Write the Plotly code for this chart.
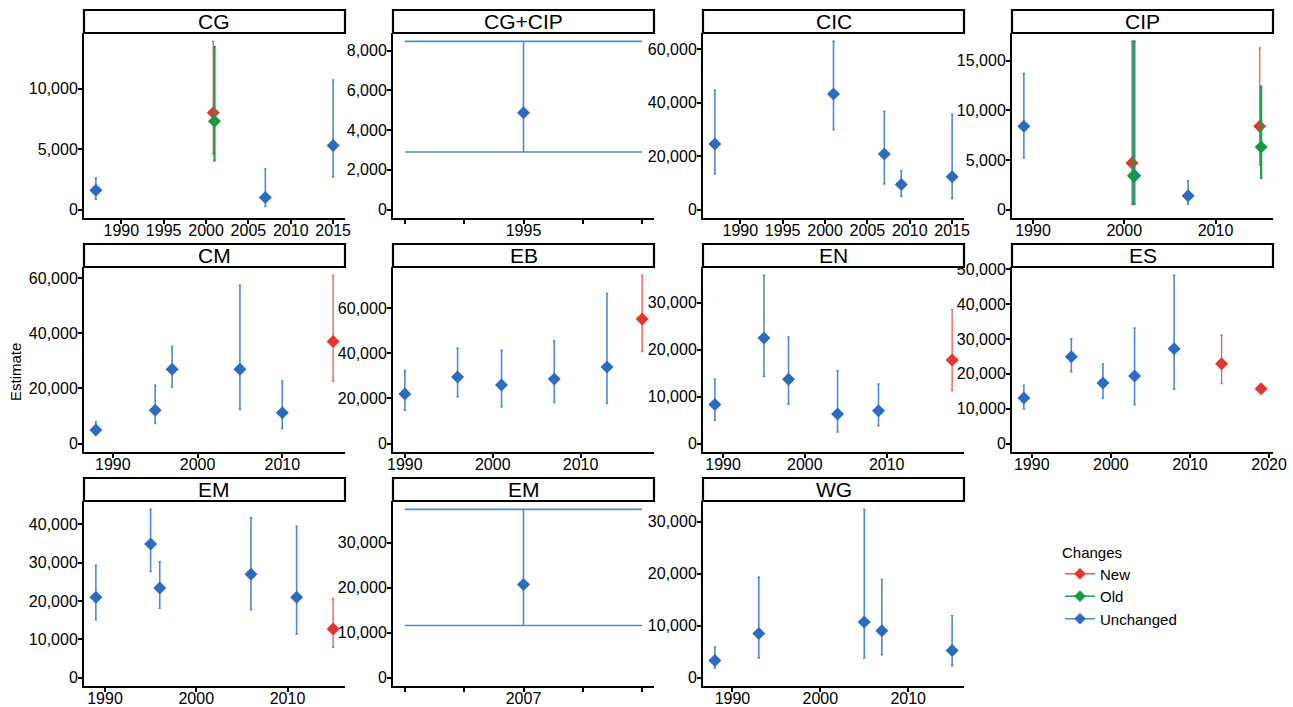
import plotly.graph_objects as go

# ---------------- data ----------------
PANEL_TITLES = ["CG", "CG+CIP", "CIC", "CIP", "CM", "EB", "EN", "ES", "EM", "EM", "WG"]

PANEL = [0, 0, 0, 0, 0,
         1,
         2, 2, 2, 2, 2,
         3, 3, 3, 3, 3, 3, 3,
         4, 4, 4, 4, 4, 4,
         5, 5, 5, 5, 5, 5,
         6, 6, 6, 6, 6, 6,
         7, 7, 7, 7, 7, 7, 7,
         8, 8, 8, 8, 8, 8,
         9,
         10, 10, 10, 10, 10]

YEAR = [1987, 2001, 2001, 2007, 2015,
        1995,
        1987, 2001, 2007, 2009, 2015,
        1989, 2001, 2001, 2001, 2007, 2015, 2015,
        1988, 1995, 1997, 2005, 2010, 2016,
        1990, 1996, 2001, 2007, 2013, 2017,
        1989, 1995, 1998, 2004, 2009, 2018,
        1989, 1995, 1999, 2003, 2008, 2014, 2019,
        1989, 1995, 1996, 2006, 2011, 2015,
        2007,
        1988, 1993, 2005, 2007, 2015]

CHANGE = ["Unchanged", "New", "Old", "Unchanged", "Unchanged",
          "Unchanged",
          "Unchanged", "Unchanged", "Unchanged", "Unchanged", "Unchanged",
          "Unchanged", "Unchanged", "New", "Old", "Unchanged", "New", "Old",
          "Unchanged", "Unchanged", "Unchanged", "Unchanged", "Unchanged", "New",
          "Unchanged", "Unchanged", "Unchanged", "Unchanged", "Unchanged", "New",
          "Unchanged", "Unchanged", "Unchanged", "Unchanged", "Unchanged", "New",
          "Unchanged", "Unchanged", "Unchanged", "Unchanged", "Unchanged", "New", "New",
          "Unchanged", "Unchanged", "Unchanged", "Unchanged", "Unchanged", "New",
          "Unchanged",
          "Unchanged", "Unchanged", "Unchanged", "Unchanged", "Unchanged"]

EST = [1600, 8000, 7300, 1000, 5300,
       4880,
       24500, 43200, 20800, 9400, 12300,
       8400, 3400, 4700, 3400, 1400, 8400, 6300,
       4900, 12100, 27000, 27000, 11200, 37000,
       21900, 29500, 25900, 28600, 33900, 55100,
       8300, 22500, 13700, 6300, 7000, 17800,
       13100, 24900, 17400, 19400, 27200, 22900, 15700,
       21000, 34900, 23400, 27000, 21000, 12700,
       20700,
       3300, 8500, 10700, 9000, 5200]

LOWER = [850, 4600, 4050, 250, 2700,
         2900,
         13300, 29900, 9600, 5000, 4200,
         5200, 550, 550, 550, 550, 4500, 3200,
         3000, 7300, 20500, 12400, 5500, 22700,
         14800, 20700, 16300, 18200, 17800, 40700,
         5000, 14300, 8400, 2500, 3800, 11300,
         10000, 20600, 13100, 11200, 15600, 17200, 15200,
         15100, 27700, 18100, 17700, 11400, 7900,
         11600,
         1850, 3800, 3800, 4400, 2300]

UPPER = [2600, 13900, 13450, 3350, 10700,
         8470,
         44700, 62900, 36800, 14500, 35600,
         13700, 16950, 16950, 16950, 2900, 16300, 12400,
         7900, 21100, 35200, 57400, 22700, 61000,
         32300, 42200, 41300, 45500, 66400, 74400,
         13700, 35800, 22700, 15500, 12700, 28500,
         16700, 30000, 22800, 33100, 48200, 31100, 16300,
         29300, 43900, 30200, 41700, 39500, 20600,
         37400,
         5900, 19300, 32400, 18900, 11900]

X_TICKS = [[1990, 1995, 2000, 2005, 2010, 2015],
           [1995],
           [1990, 1995, 2000, 2005, 2010, 2015],
           [1990, 2000, 2010],
           [1990, 2000, 2010],
           [1990, 2000, 2010],
           [1990, 2000, 2010],
           [1990, 2000, 2010, 2020],
           [1990, 2000, 2010],
           [2007],
           [1990, 2000, 2010]]

Y_TICKS = [[0, 5000, 10000],
           [0, 2000, 4000, 6000, 8000],
           [0, 20000, 40000, 60000],
           [0, 5000, 10000, 15000],
           [0, 20000, 40000, 60000],
           [0, 20000, 40000, 60000],
           [0, 10000, 20000, 30000],
           [0, 10000, 20000, 30000, 40000, 50000],
           [0, 10000, 20000, 30000, 40000],
           [0, 10000, 20000, 30000],
           [0, 10000, 20000, 30000]]

CHANGE_ORDER = ["New", "Old", "Unchanged"]
DRAW_ORDER = ["Unchanged", "New", "Old"]

# ---------------- styling ----------------
W, H = 1293, 707
COL_LEFT = [84, 393, 703, 1012]
ROW_TOP = [33, 267, 501]
PANEL_W, PANEL_H, STRIP_H = 261, 185, 23
FONT = "Liberation Sans, Arial, sans-serif"
COLORS = {"New": "#e8342c", "Old": "#149a46", "Unchanged": "#2c6cc0"}
ERR_COLORS = {"New": "#ec5b53", "Old": "#18a04a", "Unchanged": "#4f8ad4"}
ERR_THICK = {"New": 1.3, "Old": 2.2, "Unchanged": 1.6}
DODGE = {"New": -0.15, "Old": 0.0, "Unchanged": 0.15}

fig = go.Figure()
layout = dict(width=W, height=H, margin=dict(l=0, r=0, t=0, b=0, autoexpand=False),
              paper_bgcolor="white", plot_bgcolor="white",
              font=dict(family=FONT, size=15, color="black"),
              showlegend=True)
shapes, annotations = [], []

for p, title in enumerate(PANEL_TITLES):
    r, c = divmod(p, 4)
    x0, y0 = COL_LEFT[c], ROW_TOP[r]
    idx = [i for i, q in enumerate(PANEL) if q == p]
    years = [YEAR[i] for i in idx]

    def xpos(i):
        same = [j for j in idx if YEAR[j] == YEAR[i]]
        return YEAR[i] + (DODGE[CHANGE[i]] if len(same) > 1 else 0.0)

    xs_all = [xpos(i) for i in idx]
    lo_x, hi_x = min(xs_all), max(xs_all)
    single = len(set(years)) == 1
    if single:
        lo_x, hi_x = lo_x - 0.5, hi_x + 0.5
    pad = 0.05 * (hi_x - lo_x)
    xr = [lo_x - pad, hi_x + pad]

    lo_y = min(0, min(LOWER[i] for i in idx))
    hi_y = max(UPPER[i] for i in idx)
    pady = 0.05 * (hi_y - lo_y)
    yr = [lo_y - pady, hi_y + pady]

    if single:
        base = X_TICKS[p][0]
        tickvals = [base - 0.5, base - 0.25, base, base + 0.25, base + 0.5]
        ticktext = ["", "", str(base), "", ""]
        cap = 0.5 * PANEL_W / (xr[1] - xr[0])
    else:
        tickvals = X_TICKS[p]
        ticktext = [str(v) for v in X_TICKS[p]]
        cap = 1.2

    sfx = "" if p == 0 else str(p + 1)
    xd = [x0 / W, (x0 + PANEL_W) / W]
    yd = [1 - (y0 + PANEL_H) / H, 1 - y0 / H]
    axis_common = dict(showgrid=False, zeroline=False, showline=True, linecolor="black",
                       linewidth=2, ticks="outside", ticklen=4, tickwidth=1.5,
                       tickcolor="black", automargin=False,
                       tickfont=dict(family=FONT, size=16, color="black"))
    layout["xaxis" + sfx] = dict(domain=xd, range=xr, anchor="y" + sfx,
                                 tickmode="array", tickvals=tickvals, ticktext=ticktext,
                                 ticklabelstandoff=-7, **axis_common)
    layout["yaxis" + sfx] = dict(domain=yd, range=yr, anchor="x" + sfx,
                                 tickmode="array", tickvals=Y_TICKS[p],
                                 ticktext=[f"{v:,}" for v in Y_TICKS[p]],
                                 ticklabelstandoff=-3, **axis_common)

    for ch in DRAW_ORDER:
        sel = [i for i in idx if CHANGE[i] == ch]
        if not sel:
            continue
        fig.add_trace(go.Scatter(
            x=[xpos(i) for i in sel], y=[EST[i] for i in sel],
            mode="markers", xaxis="x" + sfx, yaxis="y" + sfx, showlegend=False,
            marker=dict(symbol="diamond", size=10, color=COLORS[ch], line=dict(width=0)),
            error_y=dict(type="data", symmetric=False,
                         array=[UPPER[i] - EST[i] for i in sel],
                         arrayminus=[EST[i] - LOWER[i] for i in sel],
                         color=ERR_COLORS[ch], thickness=ERR_THICK[ch], width=cap),
            hoverinfo="skip"))

    # strip
    shapes.append(dict(type="rect", xref="paper", yref="paper",
                       x0=x0 / W, x1=(x0 + PANEL_W) / W,
                       y0=1 - y0 / H, y1=1 - (y0 - STRIP_H) / H,
                       line=dict(color="black", width=2.2), fillcolor="white", layer="above"))
    annotations.append(dict(text=title, xref="paper", yref="paper",
                            x=(x0 + PANEL_W / 2) / W, y=1 - (y0 - STRIP_H / 2) / H,
                            showarrow=False, xanchor="center", yanchor="middle",
                            font=dict(family=FONT, size=21, color="black")))

annotations.append(dict(text="Estimate", xref="paper", yref="paper",
                        x=15 / W, y=1 - 372 / H, textangle=-90, showarrow=False,
                        xanchor="center", yanchor="middle",
                        font=dict(family=FONT, size=15, color="black")))

for ch in CHANGE_ORDER:
    fig.add_trace(go.Scatter(x=[None], y=[None], mode="lines+markers", name=ch,
                             marker=dict(symbol="diamond", size=9, color=COLORS[ch]),
                             line=dict(color=ERR_COLORS[ch], width=1.5)))

layout["legend"] = dict(title=dict(text="Changes", font=dict(family=FONT, size=15)),
                        x=1060 / W, y=1 - 538 / H, xanchor="left", yanchor="top",
                        font=dict(family=FONT, size=15), bgcolor="rgba(0,0,0,0)",
                        itemwidth=30, tracegroupgap=2)
layout["shapes"] = shapes
layout["annotations"] = annotations
fig.update_layout(**layout)
fig.write_html("out.html", config={"displayModeBar": False},
               post_script="document.body.style.margin='0px';document.body.style.overflow='hidden';")
